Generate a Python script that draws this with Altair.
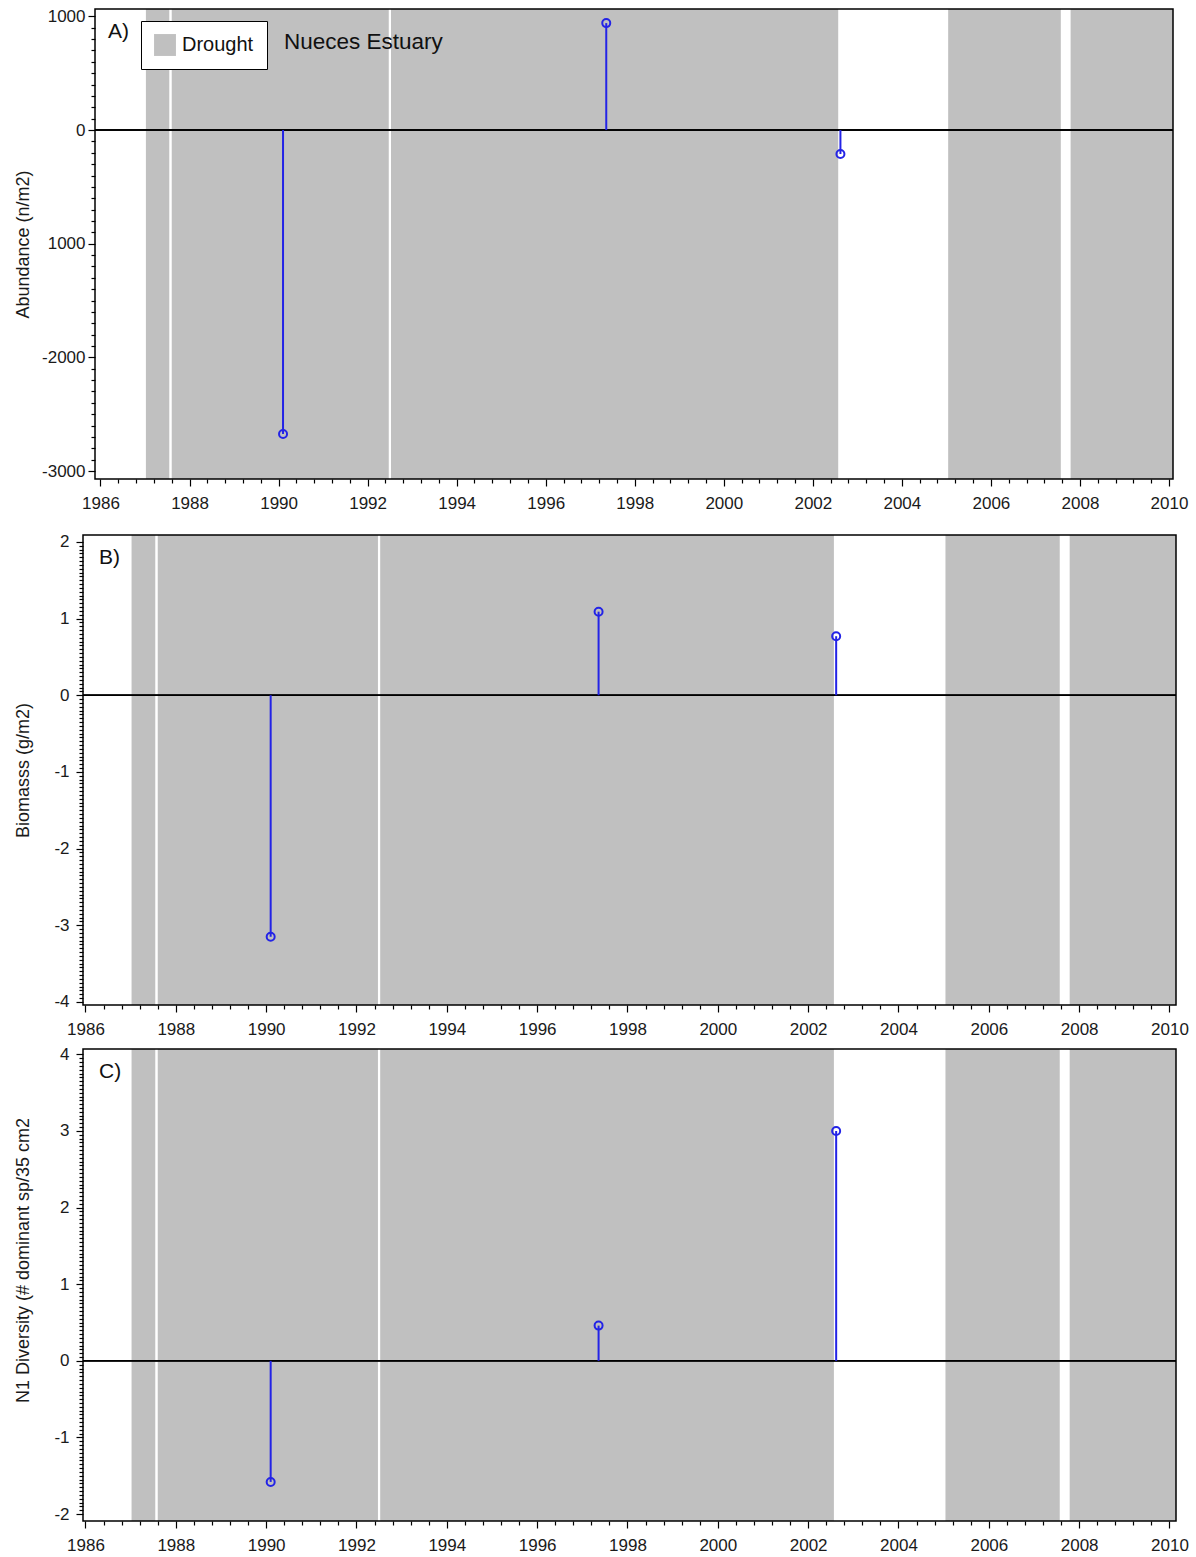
import altair as alt
import numpy as np
import pandas as pd

# ---- data ----
years = [1990.1, 1997.36, 2002.62]
abundance = [-2674, 941, -211]
biomass = [-3.15, 1.09, 0.77]
diversity = [-1.58, 0.46, 3.0]

drought_start = [1987.02, 1987.6, 1992.525, 2005.04, 2007.79]
drought_end = [1987.545, 1992.475, 2002.57, 2007.57, 2010.2]

x_major_step = 2
x_minor_step = 0.4
x_domains = [[1985.607, 2010.09], [1985.945, 2010.144], [1985.945, 2010.144]]

panel_letters = ["A)", "B)", "C)"]
y_titles = ["Abundance (n/m2)", "Biomasss (g/m2)", "N1 Diversity (# dominant sp/35 cm2"]
y_domains = [[-3070, 1065], [-4.04, 2.09], [-2.09, 4.07]]
y_ranges = [(-3000, 1000), (-4, 2), (-2, 4)]
y_major_steps = [1000, 1, 1]
y_minor_steps = [100, 0.05, 0.05]

BLUE = "#2323e6"
GRAY = "#c0c0c0"
FONT = "Liberation Sans"

drought = pd.DataFrame({"start": drought_start, "end": drought_end, "kind": "Drought"})


def major_test(step):
    return f"abs(datum.value/{step} - round(datum.value/{step})) < 1e-6"


x_values = [round(v, 2) for v in np.arange(1986, 2010.001, x_minor_step)]


def make_x_axis(extra_bottom):
    kw = dict(
        values=x_values,
        tickCount=1000,
        labelExpr=f"{major_test(x_major_step)} ? ('' + round(datum.value)) : ''",
        tickSize={"condition": {"test": major_test(x_major_step), "value": 7}, "value": 4},
        labelOverlap=False,
        labelPadding=9,
        grid=False,
        domain=False,
    )
    if extra_bottom:
        kw.update(title=" ", titleFontSize=11, titlePadding=2)
    else:
        kw.update(title=None)
    return alt.Axis(**kw)


def panel(i, values, width, height, inset=0, legend=False):
    lo, hi = y_ranges[i]
    ms = y_minor_steps[i]
    n = int(round((hi - lo) / ms))
    yvals = [round(lo + k * ms, 4) for k in range(n + 1)]
    step = y_major_steps[i]
    if i == 0:
        lab = f"{major_test(step)} ? (round(datum.value) == -1000 ? '1000' : ('' + round(datum.value))) : ''"
    else:
        lab = f"{major_test(step)} ? ('' + round(datum.value)) : ''"
    axis_kwargs = dict(
        title=y_titles[i],
        values=yvals,
        tickCount=1000,
        labelExpr=lab,
        tickSize={"condition": {"test": major_test(step), "value": 7}, "value": 4},
        labelOverlap=False,
        labelPadding=3 if i == 0 else 7,
        grid=False,
        domain=False,
        offset=-inset,
        titleX=-51 - inset,
    )
    if i == 2:
        axis_kwargs["titleY"] = 211
    y_axis = alt.Axis(**axis_kwargs)
    y_scale = alt.Scale(domain=y_domains[i], nice=False, zero=False)
    x_scale = alt.Scale(domain=x_domains[i], nice=False, zero=False)
    x_axis = make_x_axis(i == 0)

    df = pd.DataFrame({"year": years, "value": values})

    if legend:
        color = alt.Color(
            "kind:N",
            scale=alt.Scale(domain=["Drought"], range=[GRAY]),
            legend=alt.Legend(
                title=None,
                orient="none",
                legendX=58,
                legendY=12,
                symbolType="square",
                symbolSize=480,
                symbolStrokeWidth=0,
                symbolOpacity=1,
                labelFontSize=20,
                labelColor="#111111",
                labelFont=FONT,
                strokeColor="black",
                fillColor="white",
                padding=13,
                labelOffset=6,
            ),
        )
        rects = alt.Chart(drought).mark_rect(clip=True, opacity=1).encode(
            x=alt.X("start:Q", scale=x_scale, axis=x_axis),
            x2="end:Q",
            color=color,
        )
    else:
        rects = alt.Chart(drought).mark_rect(clip=True, color=GRAY, opacity=1).encode(
            x=alt.X("start:Q", scale=x_scale, axis=x_axis),
            x2="end:Q",
        )

    zero = alt.Chart(df).mark_rule(color="black", strokeWidth=1.5).encode(
        y=alt.YDatum(0, scale=y_scale, axis=y_axis, title=y_titles[i]),
        x=alt.value(inset),
        x2=alt.value(width),
    )
    stems = alt.Chart(df).mark_rule(color=BLUE, strokeWidth=2).encode(
        x=alt.X("year:Q", scale=x_scale, axis=x_axis),
        y=alt.Y("value:Q", scale=y_scale, axis=y_axis, title=y_titles[i]),
        y2=alt.datum(0),
    )
    points = alt.Chart(df).mark_point(
        shape="circle", filled=False, size=64, strokeWidth=2, color=BLUE, opacity=1
    ).encode(
        x=alt.X("year:Q", scale=x_scale, axis=x_axis),
        y=alt.Y("value:Q", scale=y_scale, axis=y_axis, title=y_titles[i]),
    )
    frame = alt.Chart(pd.DataFrame({"f": [0]})).mark_rect(
        fillOpacity=0, stroke="black", strokeWidth=1.5
    ).encode(
        x=alt.value(inset), x2=alt.value(width), y=alt.value(0), y2=alt.value(height)
    )
    letter_x = 25 if i == 0 else 16
    letter = alt.Chart(pd.DataFrame({"t": [panel_letters[i]]})).mark_text(
        align="left", baseline="middle", fontSize=21, font=FONT, color="#111111"
    ).encode(text="t:N", x=alt.value(letter_x), y=alt.value(23))

    layers = [rects, zero, stems, points, frame, letter]
    if legend:
        title_txt = alt.Chart(pd.DataFrame({"t": ["Nueces Estuary"]})).mark_text(
            align="left", baseline="middle", fontSize=22.5, font=FONT, color="#111111"
        ).encode(text="t:N", x=alt.value(201), y=alt.value(33))
        layers.append(title_txt)
    return alt.layer(*layers).properties(width=width, height=height)


pA = panel(0, abundance, 1090, 470, inset=12, legend=True)
pB = panel(1, biomass, 1093, 470)
pC = panel(2, diversity, 1093, 472)

chart = (
    alt.vconcat(pA, pB, pC, spacing=8)
    .properties(padding={"left": 14, "top": 7, "right": 4, "bottom": 1}, background="white")
    .configure_view(stroke=None)
    .configure_axis(
        labelFont=FONT,
        titleFont=FONT,
        labelFontSize=17,
        titleFontSize=18,
        titleFontWeight="normal",
        labelColor="#1a1a1a",
        titleColor="#1a1a1a",
        tickColor="black",
        domainColor="black",
        tickWidth=1.2,
    )
)

chart.save("out.html", embed_options={"renderer": "svg", "actions": False})
